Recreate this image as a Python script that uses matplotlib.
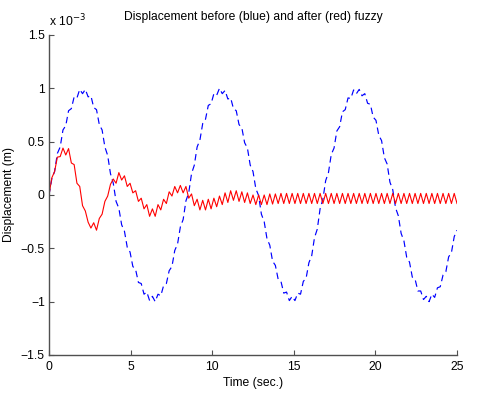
import numpy as np
import matplotlib
matplotlib.use("Agg")
import matplotlib.pyplot as plt

plt.rcParams['font.family'] = ['Liberation Sans', 'DejaVu Sans']

# time grid (seconds) and displacement values in units of 1e-3 m
t_start, t_end, n_pts = 0.0, 25.0, 147

before_blue = [
    0.00, 0.15, 0.22, 0.39, 0.45, 0.61, 0.65, 0.79, 0.81, 0.92,
    0.91, 0.99, 0.95, 0.99, 0.92, 0.93, 0.82, 0.80, 0.66, 0.61,
    0.45, 0.37, 0.20, 0.11, -0.06, -0.125, -0.28, -0.34, -0.49, -0.535,
    -0.67, -0.70, -0.82, -0.83, -0.93, -0.91, -0.99, -0.95, -1.00, -0.93,
    -0.945, -0.85, -0.83, -0.71, -0.67, -0.52, -0.46, -0.30, -0.23, -0.055,
    0.02, 0.20, 0.28, 0.45, 0.515, 0.67, 0.71, 0.84, 0.855, 0.95,
    0.935, 1.00, 0.95, 0.98, 0.90, 0.91, 0.81, 0.79, 0.66, 0.63,
    0.49, 0.44, 0.28, 0.22, 0.06, -0.005, -0.18, -0.25, -0.41, -0.47,
    -0.62, -0.66, -0.79, -0.81, -0.92, -0.91, -0.99, -0.95, -0.99, -0.92,
    -0.93, -0.81, -0.78, -0.635, -0.57, -0.40, -0.32, -0.13, -0.04, 0.135,
    0.21, 0.38, 0.44, 0.60, 0.64, 0.78, 0.80, 0.91, 0.905, 0.985,
    0.95, 0.99, 0.93, 0.95, 0.86, 0.85, 0.73, 0.70, 0.56, 0.51,
    0.35, 0.29, 0.12, 0.05, -0.12, -0.195, -0.36, -0.43, -0.585, -0.63,
    -0.77, -0.79, -0.90, -0.90, -0.98, -0.95, -1.00, -0.93, -0.96, -0.87,
    -0.86, -0.75, -0.72, -0.58, -0.54, -0.39, -0.33,
]

after_red = [
    0.00, 0.16, 0.22, 0.355, 0.36, 0.44, 0.375, 0.435, 0.30, 0.285,
    0.11, 0.08, -0.10, -0.15, -0.255, -0.31, -0.26, -0.33, -0.22, -0.18,
    -0.06, -0.01, 0.10, 0.15, 0.11, 0.21, 0.14, 0.18, 0.08, 0.11,
    0.02, 0.04, -0.06, -0.03, -0.13, -0.09, -0.20, -0.13, -0.20, -0.09,
    -0.14, -0.04, -0.08, 0.03, -0.01, 0.08, 0.02, 0.09, 0.02, 0.08,
    -0.03, 0.01, -0.10, -0.04, -0.14, -0.05, -0.14, -0.04, -0.13, -0.03,
    -0.11, -0.01, -0.09, 0.02, -0.07, 0.04, -0.05, 0.04, -0.06, 0.03,
    -0.07, 0.02, -0.08, 0.00, -0.09, 0.00, -0.09, 0.00, -0.09, 0.01,
    -0.085, 0.01, -0.08, 0.015, -0.08, 0.015, -0.08, 0.015, -0.08, 0.015,
    -0.08, 0.015, -0.08, 0.015, -0.08, 0.015, -0.08, 0.015, -0.08, 0.015,
    -0.08, 0.015, -0.08, 0.015, -0.08, 0.015, -0.08, 0.015, -0.08, 0.015,
    -0.08, 0.015, -0.08, 0.015, -0.08, 0.015, -0.08, 0.015, -0.08, 0.015,
    -0.08, 0.015, -0.08, 0.015, -0.08, 0.015, -0.08, 0.015, -0.08, 0.015,
    -0.08, 0.015, -0.08, 0.015, -0.08, 0.015, -0.08, 0.015, -0.08, 0.015,
    -0.08, 0.015, -0.08, 0.015, -0.08, 0.015, -0.08,
]

x_ticks = [0, 5, 10, 15, 20, 25]
y_ticks = [-1.5, -1, -0.5, 0, 0.5, 1, 1.5]
y_tick_labels = ['\u22121.5', '\u22121', '\u22120.5', '0', '0.5', '1', '1.5']

t = np.linspace(t_start, t_end, n_pts)

fig = plt.figure(figsize=(4.89, 3.99), dpi=100)
ax = fig.add_axes([0.1002, 0.1103, 0.8344, 0.802])

ax.plot(t, before_blue, color='#0000ff', lw=0.85, linestyle=(0, (5.5, 3.5)))
ax.plot(t, after_red, color='#ff0000', lw=0.8, solid_joinstyle='round')

ax.set_xlim(0, 25)
ax.set_ylim(-1.5, 1.5)
ax.set_xticks(x_ticks)
ax.set_yticks(y_ticks)
ax.set_yticklabels(y_tick_labels)

for side in ['top', 'right']:
    ax.spines[side].set_visible(False)
for side in ['left', 'bottom']:
    ax.spines[side].set_color('#505050')
    ax.spines[side].set_linewidth(1.0)

fs = 8.7
ax.tick_params(direction='in', length=3.5, width=0.8, color='#505050',
               labelsize=fs, labelcolor='black')
ax.tick_params(axis='y', pad=3)
ax.tick_params(axis='x', pad=4)

ax.set_title('Displacement before (blue) and after (red) fuzzy', fontsize=fs, pad=11)
ax.set_xlabel('Time (sec.)', fontsize=fs, labelpad=3)
ax.set_ylabel('Displacement (m)', fontsize=fs, labelpad=4)
ax.text(0.0, 1.018, 'x 10$^{-3}$', transform=ax.transAxes, fontsize=fs,
        ha='left', va='bottom')

fig.savefig('out.png', dpi=100)
